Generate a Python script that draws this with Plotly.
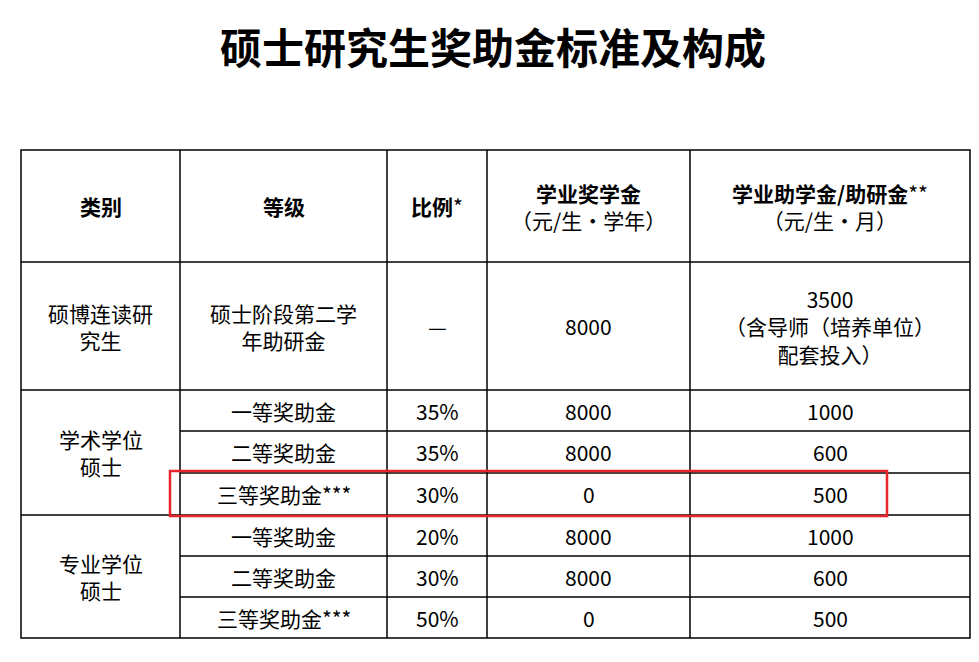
import plotly.graph_objects as go

title = "硕士研究生奖助金标准及构成"
headers = ["<b>类别</b>", "<b>等级</b>", "<b>比例</b>*",
           "<b>学业奖学金</b><br>（元/生・学年）",
           "<b>学业助学金/助研金</b>**<br>（元/生・月）"]
groups = ["硕博连读研<br>究生", "学术学位<br>硕士", "专业学位<br>硕士"]
levels = ["硕士阶段第二学<br>年助研金", "一等奖助金", "二等奖助金", "三等奖助金***",
          "一等奖助金", "二等奖助金", "三等奖助金***"]
ratios = ["—", "35%", "35%", "30%", "20%", "30%", "50%"]
scholarship = ["8000", "8000", "8000", "0", "8000", "8000", "0"]
stipend = ["3500<br>（含导师（培养单位）<br>配套投入）", "1000", "600", "500", "1000", "600", "500"]

W, H = 979, 662
OFF = 8  # page body margin
xs = [21, 180, 387, 487, 690, 970]
ys = [150, 262, 390, 431, 473, 515, 556, 597, 638]
group_rows = [(1, 2), (2, 5), (5, 8)]
highlight_row = 3

FONT = "Noto Sans CJK SC"
fig = go.Figure()
shapes, ann = [], []
line = dict(color="black", width=1.5)
shapes.append(dict(type="rect", x0=xs[0], x1=xs[-1], y0=ys[0], y1=ys[-1], line=line))
for x in xs[1:-1]:
    shapes.append(dict(type="line", x0=x, x1=x, y0=ys[0], y1=ys[-1], line=line))
for i, y in enumerate(ys[1:-1], start=1):
    full = any(i == a for a, b in group_rows)
    shapes.append(dict(type="line", x0=xs[0] if full else xs[1], x1=xs[-1], y0=y, y1=y, line=line))

def cell(text, c, y0, y1, size=21):
    ann.append(dict(x=(xs[c] + xs[c + 1]) / 2, y=(y0 + y1) / 2, text=text, showarrow=False,
                    font=dict(family=FONT, size=size, color="black"), xanchor="center", yanchor="middle"))

for c, h in enumerate(headers):
    cell(h, c, ys[0], ys[1])
for g, (a, b) in zip(groups, group_rows):
    cell(g, 0, ys[a], ys[b])
for r in range(len(levels)):
    y0, y1 = ys[r + 1], ys[r + 2]
    for c, col in enumerate([levels, ratios, scholarship, stipend], start=1):
        cell(col[r], c, y0, y1)

yr0, yr1 = ys[highlight_row + 1], ys[highlight_row + 2]
shapes.append(dict(type="rect", x0=170, x1=887, y0=yr0 - 2, y1=yr1 + 1,
                   line=dict(color="#e8242a", width=2.5)))

ann.append(dict(x=W / 2 + 3, y=45, text="<b>" + title + "</b>", showarrow=False,
                font=dict(family=FONT, size=42, color="black")))

fig.update_layout(width=W, height=H, margin=dict(l=0, r=0, t=0, b=0),
                  plot_bgcolor="white", paper_bgcolor="white", shapes=shapes, annotations=ann,
                  xaxis=dict(range=[OFF, W + OFF], visible=False, fixedrange=True),
                  yaxis=dict(range=[H + OFF, OFF], visible=False, fixedrange=True), showlegend=False)
fig.write_html("out.html")
